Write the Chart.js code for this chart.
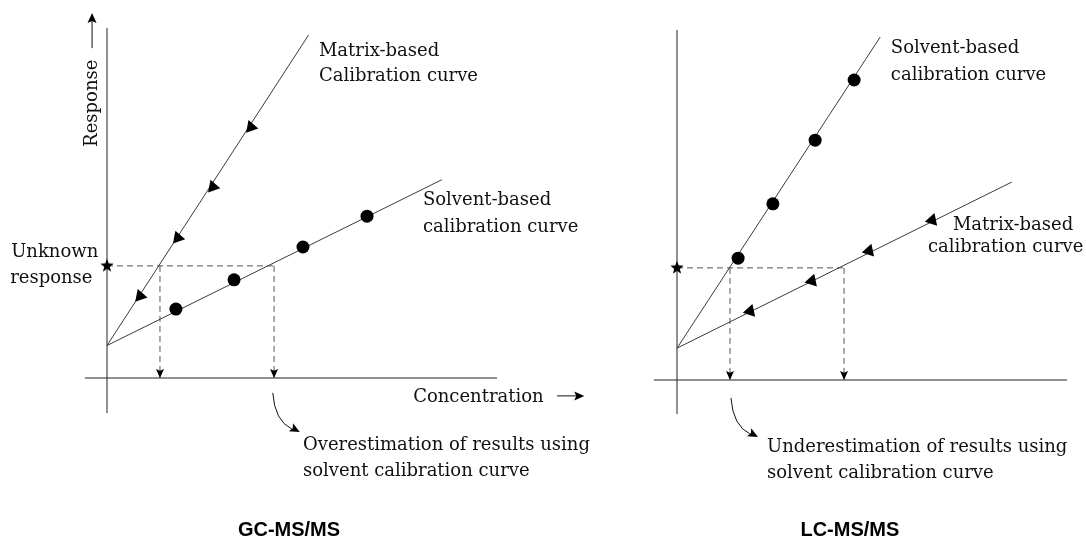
<!DOCTYPE html>
<html>
<head>
<meta charset="utf-8">
<script src="https://cdn.jsdelivr.net/npm/chart.js@4.4.0/dist/chart.umd.min.js"></script>
<style>
  html, body { margin: 0; padding: 0; background: #fff; }
  #wrap { position: relative; width: 1086px; height: 541px; overflow: hidden; }
  .panel { position: absolute; top: 0; }
  #gcBox { left: 0; }
  #lcBox { left: 600px; }
</style>
</head>
<body>
<div id="wrap">
  <div class="panel" id="gcBox"><canvas id="gcChart" width="600" height="541"></canvas></div>
  <div class="panel" id="lcBox"><canvas id="lcChart" width="486" height="541"></canvas></div>
</div>
<script>
// ---- GC-MS/MS panel (concentration, response) ----
const gcMatrixLine = [[0, 1.0], [6.2, 10.55]];
const gcMatrixArrows = [[4.43, 7.72], [3.26, 5.88], [2.18, 4.31], [1.02, 2.52]];
const gcSolventLine = [[0, 1.0], [10.3, 6.1]];
const gcSolventPoints = [[2.12, 2.12], [3.91, 3.02], [6.03, 4.03], [8.0, 4.98]];
const gcUnknownResponse = 3.45;
const gcFoundConc = [1.63, 5.14];

// ---- LC-MS/MS panel ----
const lcSolventLine = [[0, 0.98], [6.25, 10.55]];
const lcSolventPoints = [[1.88, 3.75], [2.95, 5.42], [4.25, 7.38], [5.45, 9.23]];
const lcMatrixLine = [[0, 0.98], [10.3, 6.09]];
const lcMatrixArrows = [[7.85, 4.92], [5.91, 3.97], [4.15, 3.05], [2.25, 2.12]];
const lcUnknownResponse = 3.45;
const lcFoundConc = [1.63, 5.14];

const LINE = '#3a3a3a';
const DASH = '#555';
const INK = '#111';
const SERIF = '18px "DejaVu Serif"';
const PAD = 10;     // layout padding (>= biggest point radius so chart area is predictable)
const UNIT = 32.5;  // px per unit on both axes

const toXY = pts => pts.map(([x, y]) => ({ x, y }));

// filled five point star used as point style
function makeStar(r) {
  const c = document.createElement('canvas');
  c.width = c.height = r * 2 + 2;
  const g = c.getContext('2d');
  g.fillStyle = '#000';
  g.beginPath();
  for (let i = 0; i < 10; i++) {
    const rad = i % 2 ? r * 0.42 : r;
    const a = -Math.PI / 2 + i * Math.PI / 5;
    g.lineTo(c.width / 2 + rad * Math.cos(a), c.height / 2 + rad * Math.sin(a));
  }
  g.closePath();
  g.fill();
  return c;
}
const starImg = makeStar(7);

function buildDatasets(solvLine, solvPts, matLine, matArrows, unknown, found, arrowRot) {
  const noHover = { pointHoverRadius: 0, pointBorderWidth: 0 };
  const plain = { showLine: true, borderColor: LINE, borderWidth: 1, pointRadius: 0, fill: false, ...noHover };
  const dashed = { showLine: true, borderColor: DASH, borderWidth: 1, borderDash: [6, 4], pointRadius: 0, fill: false, ...noHover };
  return [
    { label: 'Unknown response', data: [{ x: 0, y: unknown }], pointStyle: starImg, pointRadius: 7, ...noHover },
    { label: 'Solvent-based points', data: toXY(solvPts), pointRadius: 6.5,
      pointBackgroundColor: '#000', ...noHover },
    { label: 'Matrix-based arrows', data: toXY(matArrows), pointStyle: 'triangle', pointRotation: arrowRot,
      pointRadius: 7.5, pointBackgroundColor: '#000', ...noHover },
    { label: 'Solvent-based', data: toXY(solvLine), ...plain },
    { label: 'Matrix-based', data: toXY(matLine), ...plain },
    { label: 'guide h', data: [{ x: 0, y: unknown }, { x: found[1], y: unknown }], ...dashed },
    { label: 'guide 1', data: [{ x: found[0], y: unknown }, { x: found[0], y: 0 }], ...dashed, arrowEnd: true },
    { label: 'guide 2', data: [{ x: found[1], y: unknown }, { x: found[1], y: 0 }], ...dashed, arrowEnd: true }
  ];
}

function arrowHead(ctx, x, y, ang, len, half) {
  ctx.save();
  ctx.translate(x, y);
  ctx.rotate(ang);
  ctx.beginPath();
  ctx.moveTo(0, 0);
  ctx.lineTo(-len, -half);
  ctx.lineTo(-len * 0.8, 0);
  ctx.lineTo(-len, half);
  ctx.closePath();
  ctx.fill();
  ctx.restore();
}

const schematic = {
  id: 'schematic',
  beforeDatasetsDraw(chart, args, o) {
    const { ctx, scales: { x, y } } = chart;
    ctx.save();
    ctx.strokeStyle = '#222';
    ctx.lineWidth = 1;
    ctx.beginPath();
    ctx.moveTo(x.getPixelForValue(o.xAxis[0]), y.getPixelForValue(0));
    ctx.lineTo(x.getPixelForValue(o.xAxis[1]), y.getPixelForValue(0));
    ctx.moveTo(x.getPixelForValue(0), y.getPixelForValue(o.yAxis[0]));
    ctx.lineTo(x.getPixelForValue(0), y.getPixelForValue(o.yAxis[1]));
    ctx.stroke();
    ctx.restore();
  },
  afterDatasetsDraw(chart, args, o) {
    const { ctx, scales: { x, y } } = chart;
    const px = v => x.getPixelForValue(v), py = v => y.getPixelForValue(v);
    ctx.save();
    ctx.fillStyle = '#000';
    ctx.strokeStyle = INK;
    ctx.lineWidth = 1;

    // arrowheads at the end of the dashed guides
    chart.data.datasets.forEach(ds => {
      if (!ds.arrowEnd) return;
      const a = ds.data[ds.data.length - 2], b = ds.data[ds.data.length - 1];
      const ang = Math.atan2(py(b.y) - py(a.y), px(b.x) - px(a.x));
      arrowHead(ctx, px(b.x), py(b.y), ang, 9, 4);
    });

    // curved arrow pointing at the text
    const sx = px(o.curve.x), sy = py(o.curve.y);
    ctx.beginPath();
    ctx.moveTo(sx, sy);
    ctx.quadraticCurveTo(sx + 2, sy + 28, sx + 19, sy + 36);
    ctx.stroke();
    arrowHead(ctx, sx + 27, sy + 39, Math.atan2(9, 17), 10, 4.5);

    // axis titles with arrows
    if (o.response) {
      const r = o.response;
      ctx.save();
      ctx.translate(px(r.x), py(r.y));
      ctx.rotate(-Math.PI / 2);
      ctx.font = SERIF;
      ctx.fillStyle = INK;
      ctx.textAlign = 'left';
      ctx.textBaseline = 'alphabetic';
      ctx.fillText('Response', 0, 0);
      ctx.restore();
      ctx.beginPath();
      ctx.moveTo(px(r.ax), py(r.a0));
      ctx.lineTo(px(r.ax), py(r.a1));
      ctx.stroke();
      arrowHead(ctx, px(r.ax), py(r.a1) - 6, -Math.PI / 2, 10, 4.5);
    }
    if (o.concArrow) {
      const c = o.concArrow;
      ctx.beginPath();
      ctx.moveTo(px(c.x0), py(c.y));
      ctx.lineTo(px(c.x1), py(c.y));
      ctx.stroke();
      arrowHead(ctx, px(c.x1) + 6, py(c.y), 0, 10, 4.5);
    }

    // labels
    ctx.textAlign = 'left';
    ctx.textBaseline = 'alphabetic';
    ctx.fillStyle = INK;
    ctx.font = SERIF;
    o.labels.forEach(l => ctx.fillText(l.t, px(l.x), py(l.y)));

    // panel title
    ctx.font = 'bold 20px "Liberation Sans", Arial, sans-serif';
    ctx.textAlign = 'center';
    ctx.fillStyle = '#000';
    ctx.fillText(o.title.t, px(o.title.x), py(o.title.y));
    ctx.restore();
  }
};

// origin (ox, oy) in canvas px -> axis ranges for a canvas of w x h
function rangesFor(w, h, ox, oy) {
  return {
    x: [-(ox - PAD) / UNIT, (w - PAD - ox) / UNIT],
    y: [-(h - PAD - oy) / UNIT, (oy - PAD) / UNIT]
  };
}

function makeChart(id, datasets, origin, opts) {
  const cv = document.getElementById(id);
  const r = rangesFor(cv.width, cv.height, origin[0], origin[1]);
  return new Chart(cv, {
    type: 'scatter',
    data: { datasets },
    options: {
      responsive: false,
      animation: false,
      layout: { padding: PAD },
      scales: {
        x: { type: 'linear', display: false, min: r.x[0], max: r.x[1] },
        y: { type: 'linear', display: false, min: r.y[0], max: r.y[1] }
      },
      elements: { line: { tension: 0 } },
      plugins: {
        legend: { display: false },
        tooltip: { enabled: false },
        schematic: opts
      }
    },
    plugins: [schematic]
  });
}

makeChart('gcChart',
  buildDatasets(gcSolventLine, gcSolventPoints, gcMatrixLine, gcMatrixArrows, gcUnknownResponse, gcFoundConc, 221),
  [107, 378],
  {
    xAxis: [-0.68, 12.0], yAxis: [-1.08, 10.77],
    curve: { x: 5.1, y: -0.46 },
    response: { x: -0.31, y: 7.11, ax: -0.46, a0: 10.15, a1: 11.05 },
    concArrow: { x0: 13.85, x1: 14.5, y: -0.55 },
    labels: [
      { t: 'Unknown', x: -2.95, y: 3.72 },
      { t: 'response', x: -2.98, y: 2.92 },
      { t: 'Matrix-based', x: 6.52, y: 9.91 },
      { t: 'Calibration curve', x: 6.52, y: 9.14 },
      { t: 'Solvent-based', x: 9.72, y: 5.32 },
      { t: 'calibration curve', x: 9.72, y: 4.49 },
      { t: 'Concentration', x: 9.42, y: -0.74 },
      { t: 'Overestimation of results using', x: 6.03, y: -2.22 },
      { t: 'solvent calibration curve', x: 6.03, y: -3.02 }
    ],
    title: { t: 'GC-MS/MS', x: 5.6, y: -4.86 }
  });

makeChart('lcChart',
  buildDatasets(lcSolventLine, lcSolventPoints, lcMatrixLine, lcMatrixArrows, lcUnknownResponse, lcFoundConc, 258),
  [77, 380],
  {
    xAxis: [-0.71, 12.0], yAxis: [-1.05, 10.77],
    curve: { x: 1.66, y: -0.55 },
    labels: [
      { t: 'Solvent-based', x: 6.58, y: 10.06 },
      { t: 'calibration curve', x: 6.58, y: 9.23 },
      { t: 'Matrix-based', x: 8.49, y: 4.62 },
      { t: 'calibration curve', x: 7.72, y: 3.94 },
      { t: 'Underestimation of results using', x: 2.77, y: -2.22 },
      { t: 'solvent calibration curve', x: 2.77, y: -3.02 }
    ],
    title: { t: 'LC-MS/MS', x: 5.32, y: -4.8 }
  });
</script>
</body>
</html>
